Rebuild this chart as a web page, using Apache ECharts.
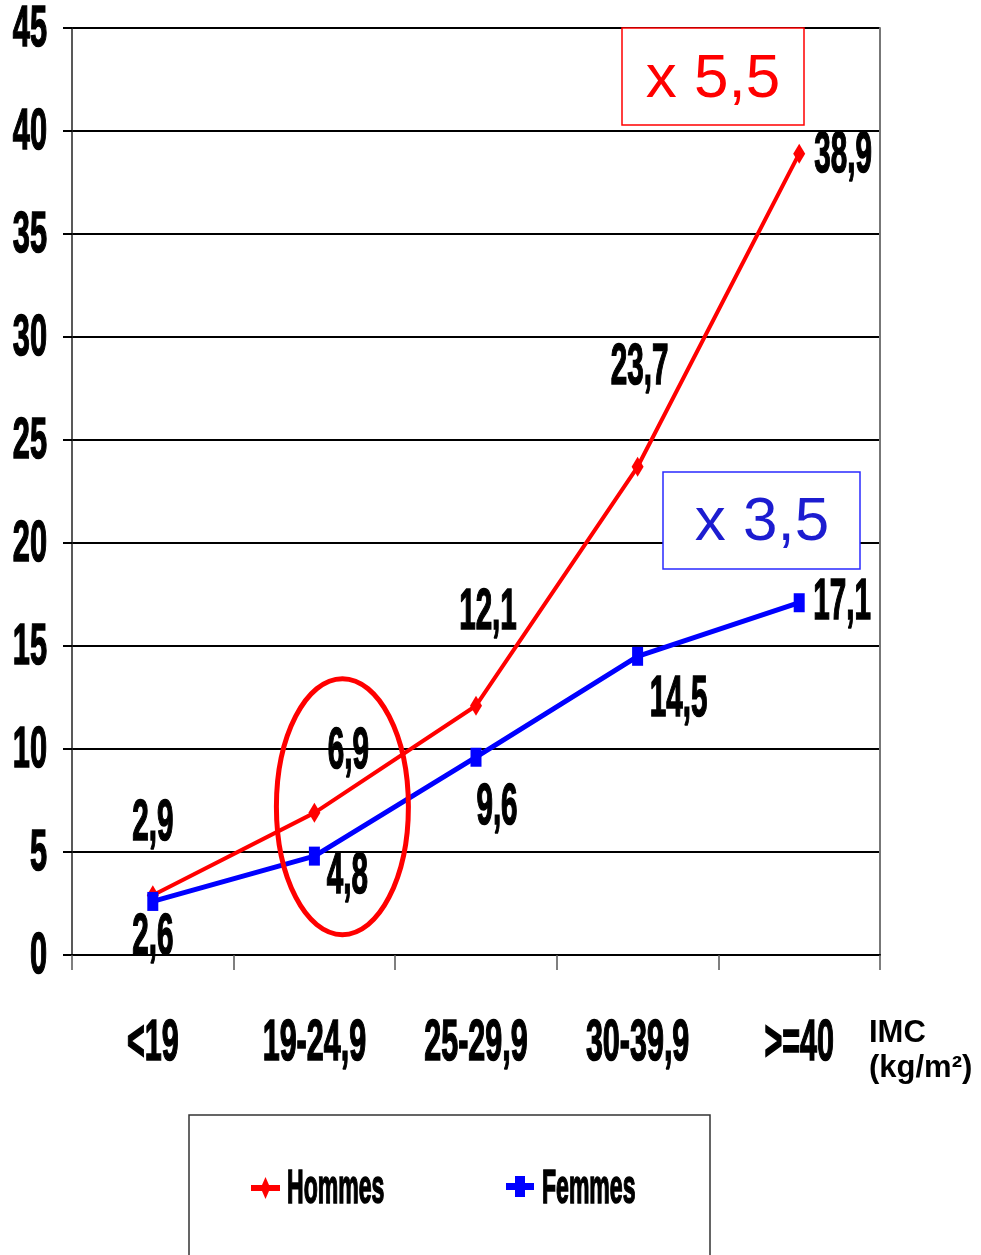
<!DOCTYPE html>
<html>
<head>
<meta charset="utf-8">
<script src="https://cdn.jsdelivr.net/npm/echarts@6/dist/echarts.min.js"></script>
<style>
  html, body { margin: 0; padding: 0; background: #fff; }
  #chart { width: 981px; height: 1255px; }
</style>
</head>
<body>
<div id="chart"></div>
<script>
// IMC classes and prevalence values (%)
const categories = ['<19', '19-24,9', '25-29,9', '30-39,9', '>=40'];
const hommes = [2.9, 6.9, 12.1, 23.7, 38.9];
const femmes = [2.6, 4.8, 9.6, 14.5, 17.1];
const yTicks = [0, 5, 10, 15, 20, 25, 30, 35, 40, 45];
const seriesNames = ['Hommes', 'Femmes'];

// where each value label sits relative to its point
const hommesLabelOffsets = [[0, -73], [34, -63], [12, -94], [2, -100], [44, 1]];
const femmesLabelOffsets = [[0, 35], [33, 19], [21, 49], [41, 42], [43, -1]];

const SANS = '"Liberation Sans", Arial, sans-serif';

// legend keys: a line with the series marker on it
const ICON_DIAMOND = 'path://M0,8 L11,8 L14.5,0 L18,8 L29,8 L29,14 L18,14 L14.5,22 L11,14 L0,14 Z';
const ICON_SQUARE = 'path://M0,7 L9,7 L9,0 L19,0 L19,7 L28,7 L28,14 L19,14 L19,21 L9,21 L9,14 L0,14 Z';

function fmt(v) { return String(v).replace('.', ','); }

const chart = echarts.init(document.getElementById('chart'), null, { renderer: 'canvas' });

chart.setOption({
  animation: false,
  backgroundColor: '#fff',
  grid: { left: 72, right: 101, top: 28, bottom: 300, outerBoundsMode: 'none', containLabel: false },
  legend: [{
    left: 251, top: 1177, padding: 0,
    itemWidth: 29, itemHeight: 22,
    icon: ICON_DIAMOND,
    formatter: () => '',
    data: [seriesNames[0]]
  }, {
    left: 506, top: 1176, padding: 0,
    itemWidth: 28, itemHeight: 21,
    icon: ICON_SQUARE,
    formatter: () => '',
    data: [seriesNames[1]]
  }],
  xAxis: {
    type: 'category',
    data: categories,
    boundaryGap: true,
    axisLine: { lineStyle: { color: '#000', width: 2 } },
    axisTick: { show: true, length: 15, lineStyle: { color: '#555', width: 1.5 } },
    axisLabel: { show: false }
  },
  yAxis: [{
    type: 'value',
    min: 0,
    max: 45,
    interval: 5,
    axisLine: { show: true, lineStyle: { color: '#222', width: 1.5 } },
    axisTick: { show: true, inside: false, length: 9, lineStyle: { color: '#000', width: 2 } },
    splitLine: { show: true, lineStyle: { color: '#000', width: 2 } },
    axisLabel: { show: false }
  }, {
    type: 'value',
    position: 'right',
    min: 0,
    max: 45,
    interval: 5,
    axisLine: { show: true, lineStyle: { color: '#777', width: 2 } },
    axisTick: { show: false },
    axisLabel: { show: false },
    splitLine: { show: false }
  }],
  series: [{
    name: seriesNames[0],
    type: 'line',
    data: hommes,
    symbol: 'diamond',
    symbolSize: [12, 20],
    itemStyle: { color: '#ff0000' },
    lineStyle: { color: '#ff0000', width: 4 },
    z: 3
  }, {
    name: seriesNames[1],
    type: 'line',
    data: femmes,
    symbol: 'rect',
    symbolSize: [11, 19],
    itemStyle: { color: '#0000ff' },
    lineStyle: { color: '#0000ff', width: 5 },
    z: 4
  }]
});

// condensed bold text: a bold face squeezed horizontally
function narrowText(x, y, text, size, sx, align) {
  return {
    type: 'text',
    x: x, y: y,
    scaleX: sx, scaleY: 1,
    style: {
      text: text,
      fill: '#000',
      stroke: '#000',
      lineWidth: 1.6,
      font: 'bold ' + size + 'px ' + SANS,
      align: align || 'center',
      verticalAlign: 'middle'
    },
    z: 20
  };
}

const graphics = [];

// y tick labels
yTicks.forEach(v => {
  const p = chart.convertToPixel({ yAxisIndex: 0 }, v);
  graphics.push(narrowText(47, p + 2, String(v), 58, 0.53, 'right'));
});

// category labels
const y0 = chart.convertToPixel({ yAxisIndex: 0 }, 0);
categories.forEach((cat, i) => {
  const px = chart.convertToPixel({ xAxisIndex: 0 }, i);
  graphics.push(narrowText(px, y0 + 89, cat, 57, 0.535, 'center'));
});

// value labels next to each point
[[hommes, hommesLabelOffsets, 0], [femmes, femmesLabelOffsets, 1]].forEach(([vals, offs, si]) => {
  vals.forEach((v, i) => {
    const p = chart.convertToPixel({ seriesIndex: si }, [i, v]);
    graphics.push(narrowText(p[0] + offs[i][0], p[1] + offs[i][1] + 2, fmt(v), 57, 0.52, 'center'));
  });
});

// legend names
graphics.push(narrowText(287, 1190, seriesNames[0], 48, 0.48, 'left'));
graphics.push(narrowText(542, 1190, seriesNames[1], 48, 0.48, 'left'));

// circled class 19-24,9
const c = chart.convertToPixel({ seriesIndex: 0 }, [1, 7.2]);

graphics.push(
  {
    type: 'rect',
    shape: { x: 189, y: 1115, width: 521, height: 200 },
    style: { fill: 'none', stroke: '#333', lineWidth: 1.5 },
    z: 0
  },
  {
    type: 'rect',
    shape: { x: 622, y: 28, width: 182, height: 97 },
    style: { fill: '#fff', stroke: '#ff0000', lineWidth: 1.5 },
    z: 10
  },
  {
    type: 'text',
    x: 713, y: 80,
    style: {
      text: 'x 5,5', fill: '#ff0000', font: '62px ' + SANS,
      align: 'center', verticalAlign: 'middle'
    },
    z: 11
  },
  {
    type: 'rect',
    shape: { x: 663, y: 472, width: 197, height: 97 },
    style: { fill: '#fff', stroke: '#2a2aff', lineWidth: 1.5 },
    z: 10
  },
  {
    type: 'text',
    x: 762, y: 523,
    style: {
      text: 'x 3,5', fill: '#1c1cd0', font: '62px ' + SANS,
      align: 'center', verticalAlign: 'middle'
    },
    z: 11
  },
  {
    type: 'ellipse',
    shape: { cx: c[0] + 28, cy: c[1], rx: 66, ry: 128 },
    style: { fill: 'none', stroke: '#ff0000', lineWidth: 5 },
    z: 12
  },
  {
    type: 'text',
    x: 869, y: 1016,
    style: {
      text: 'IMC\n(kg/m²)', fill: '#000', font: 'bold 31px ' + SANS,
      lineHeight: 35
    },
    z: 11
  }
);

chart.setOption({ graphic: graphics });
</script>
</body>
</html>
